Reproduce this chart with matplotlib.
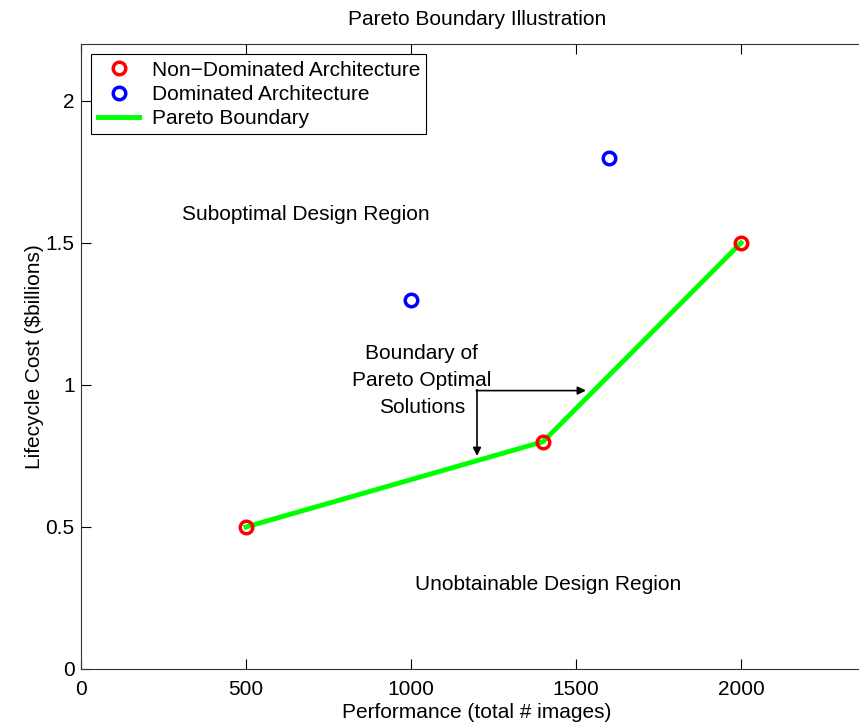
import matplotlib
matplotlib.use("Agg")
import matplotlib.pyplot as plt

plt.rcParams['font.family'] = ['Liberation Sans', 'DejaVu Sans']

nd_x = [500, 1400, 2000]
nd_y = [0.5, 0.8, 1.5]
d_x = [1000, 1600]
d_y = [1.3, 1.8]

fig = plt.figure(figsize=(8.59, 7.23), dpi=100)
ax = fig.add_axes([81/859, 54/723, (873-81)/859, 625/723])

ax.plot(nd_x, nd_y, color='#00ff00', lw=3.5, zorder=2, label='Pareto Boundary')
ax.plot(nd_x, nd_y, 'o', ls='none', mfc='none', mec='red', mew=2.5, ms=9, zorder=3, label='Non\u2212Dominated Architecture')
ax.plot(d_x, d_y, 'o', ls='none', mfc='none', mec='blue', mew=2.5, ms=9, zorder=3, label='Dominated Architecture')

ax.set_xlim(0, 2400)
ax.set_ylim(0, 2.2)
ax.set_xticks([0, 500, 1000, 1500, 2000])
ax.set_yticks([0, 0.5, 1, 1.5, 2])
ax.set_yticklabels(['0', '0.5', '1', '1.5', '2'])
ax.tick_params(direction='in', top=True, right=True, labelsize=15, length=7)
ax.tick_params(axis='x', pad=8)
ax.tick_params(axis='y', pad=4.5)
ax.set_xlabel('Performance (total # images)', fontsize=15, labelpad=3)
ax.set_ylabel('Lifecycle Cost ($billions)', fontsize=15, labelpad=1)
ax.set_title('Pareto Boundary Illustration', fontsize=15, pad=14)

ax.text(682, 1.6, 'Suboptimal Design Region', fontsize=15, ha='center', va='center')
ax.text(1415, 0.296, 'Unobtainable Design Region', fontsize=15, ha='center', va='center')
ax.text(1033, 1.015, 'Boundary of\nPareto Optimal\nSolutions', fontsize=15, ha='center', va='center', linespacing=1.55)

ax.annotate('', xy=(1530, 0.98), xytext=(1198, 0.98),
            arrowprops=dict(arrowstyle='-|>', color='black', lw=1.2, mutation_scale=12, shrinkA=0, shrinkB=0))
ax.annotate('', xy=(1200, 0.75), xytext=(1200, 0.983),
            arrowprops=dict(arrowstyle='-|>', color='black', lw=1.2, mutation_scale=12, shrinkA=0, shrinkB=0))

h, l = ax.get_legend_handles_labels()
leg = ax.legend([h[1], h[2], h[0]], [l[1], l[2], l[0]], loc='upper left', fontsize=15,
                fancybox=False, edgecolor='black', framealpha=1, borderaxespad=0.5,
                handlelength=2.0, labelspacing=0.25, borderpad=0.3, handletextpad=0.6)
leg.get_frame().set_linewidth(0.8)

for s in ax.spines.values():
    s.set_linewidth(0.8)
    s.set_color('#333333')

fig.savefig('out.png', dpi=100)
